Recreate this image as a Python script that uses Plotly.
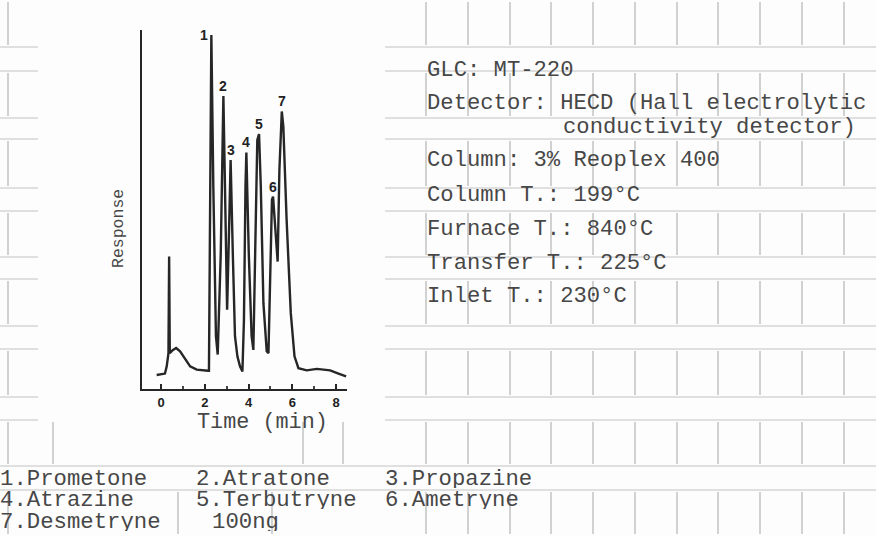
import plotly.graph_objects as go

# ---------------- data ----------------
time_min = [-0.20, 0.18, 0.26, 0.34, 0.37, 0.40, 0.53, 0.69, 0.87, 1.10, 1.33, 1.63, 1.94, 2.15,
            2.19, 2.30, 2.39, 2.51, 2.59,
            2.73, 2.85, 2.94, 3.02,
            3.12, 3.18, 3.28, 3.38, 3.49, 3.61, 3.72,
            3.79, 3.86, 3.90, 4.01, 4.14, 4.22,
            4.30, 4.40, 4.48, 4.56, 4.68, 4.83, 4.91,
            4.98, 5.07, 5.12, 5.23, 5.33,
            5.41, 5.52, 5.59, 5.74, 5.93, 6.10, 6.28, 6.66, 7.12, 7.73, 8.11, 8.46]
response = [3.9, 4.3, 6.3, 10.0, 36.9, 10.0, 10.8, 11.4, 10.5, 8.2, 6.3, 5.4, 5.1, 5.1,
            5.1, 98.6, 56.4, 14.7, 9.6,
            37.8, 81.6, 47.0, 22.1,
            47.0, 63.8, 37.8, 14.7, 9.1, 6.3, 4.9,
            19.3, 56.4, 65.9, 37.8, 14.7, 10.9,
            37.8, 69.4, 71.0, 56.4, 23.9, 10.5, 10.0,
            28.6, 52.7, 53.6, 45.3, 35.5,
            61.0, 77.3, 73.1, 47.1, 21.2, 9.1, 5.8, 5.2, 5.6, 5.2, 4.3, 3.5]

peak_labels = ["1", "2", "3", "4", "5", "6", "7"]
peak_times = [2.30, 2.85, 3.18, 3.90, 4.48, 5.12, 5.52]
peak_heights = [98.6, 81.6, 63.8, 65.9, 71.0, 53.6, 77.3]

x_tick_vals = [0, 2, 4, 6, 8]
x_tick_text = ["0", "2", "4", "6", "8"]

info_lines = ["GLC: MT-220",
              "Detector: HECD (Hall electrolytic",
              "conductivity detector)",
              "Column: 3% Reoplex 400",
              "Column T.: 199°C",
              "Furnace T.: 840°C",
              "Transfer T.: 225°C",
              "Inlet T.: 230°C"]

compounds_row1 = ["1.Prometone", "2.Atratone", "3.Propazine"]
compounds_row2 = ["4.Atrazine", "5.Terbutryne", "6.Ametryne"]
compounds_row3 = ["7.Desmetryne", "100ng"]

# ---------------- layout helpers (pixel -> paper) ----------------
W, H = 876, 536
ML, MR, MT, MB = 142, 529, 30, 147
PW, PH = W - ML - MR, H - MT - MB


def px(x):
    return (x - ML) / PW


def py(y):
    return (H - MB - y) / PH


TEXT_COLOR = "#474747"
MONO = "Liberation Mono, Courier New, monospace"

fig = go.Figure()
fig.add_trace(go.Scatter(x=time_min, y=response, mode="lines",
                         line=dict(color="#262626", width=2.4),
                         hoverinfo="skip", showlegend=False))

annotations = []
# peak numbers
for i, (lab, t, h) in enumerate(zip(peak_labels, peak_times, peak_heights)):
    if i == 0:
        annotations.append(dict(x=t, y=h, xref="x", yref="y", text=lab, showarrow=False,
                                xanchor="right", yanchor="middle", xshift=-1,
                                font=dict(family="Liberation Sans, Arial", size=14,
                                          color="#222", weight="bold")))
    else:
        annotations.append(dict(x=t, y=h, xref="x", yref="y", text=lab, showarrow=False,
                                xanchor="center", yanchor="bottom", yshift=0,
                                font=dict(family="Liberation Sans, Arial", size=14,
                                          color="#222", weight="bold")))

# axis titles
annotations.append(dict(x=px(262), y=py(422), xref="paper", yref="paper", text="Time (min)",
                        showarrow=False, xanchor="center", yanchor="middle",
                        font=dict(family=MONO, size=21.8, color=TEXT_COLOR)))
annotations.append(dict(x=px(118), y=py(229), xref="paper", yref="paper", text="Response",
                        showarrow=False, xanchor="center", yanchor="middle", textangle=-90,
                        font=dict(family=MONO, size=16.5, color=TEXT_COLOR)))

# instrument information block
info_pos = [(426, 70), (426, 103), (562, 127), (426, 160), (426, 195), (426, 229), (426, 263), (426, 296)]
for txt, (x0, y0) in zip(info_lines, info_pos):
    annotations.append(dict(x=px(x0 - 1), y=py(y0), xref="paper", yref="paper", text=txt,
                            showarrow=False, xanchor="left", yanchor="middle",
                            font=dict(family=MONO, size=22.2, color=TEXT_COLOR)))

# compound list (tightly typed rows, as on the original sheet)
rows = [(compounds_row1, 478, [0, 196, 385]),
        (compounds_row2, 499, [0, 196, 385]),
        (compounds_row3, 521, [0, 212])]
for names, y0, xs in rows:
    for name, x0 in zip(names, xs):
        annotations.append(dict(x=px(x0 - 1), y=py(y0), xref="paper", yref="paper", text=name,
                                showarrow=False, xanchor="left", yanchor="middle",
                                height=19, borderpad=0,
                                font=dict(family=MONO, size=22.3, color=TEXT_COLOR)))

# background form lines of the scanned sheet (decoration)
shapes = []
h_lines = [47, 71, 118, 139, 188, 211, 257, 279, 326, 349, 397, 420, 466, 490]
for y0 in h_lines:
    if y0 < 440:
        segs = [(0, 38), (385, W)]
    else:
        segs = [(0, W)]
    for a, b in segs:
        shapes.append(dict(type="line", xref="paper", yref="paper",
                           x0=px(a), x1=px(b), y0=py(y0), y1=py(y0),
                           line=dict(color="#c2c2c2", width=1), layer="below"))

v_right = [426, 468, 510, 551, 593, 635, 677, 718, 760, 802, 844]
gaps = [(0, 47), (71, 118), (139, 188), (211, 257), (279, 326), (349, 397), (420, 466), (490, W)]
for (ya, yb) in gaps:
    xs = [8] + v_right
    if ya == 420:
        xs = [8, 53, 303, 343] + v_right
    if ya == 490:
        xs = [8, 178, 272] + v_right
    for x0 in xs:
        shapes.append(dict(type="line", xref="paper", yref="paper",
                           x0=px(x0), x1=px(x0), y0=py(ya + 2), y1=py(min(yb, H) - 2),
                           line=dict(color="#b4b4b4", width=1.2), layer="below"))

fig.update_layout(
    width=W, height=H,
    margin=dict(l=ML, r=MR, t=MT, b=MB),
    paper_bgcolor="#fdfdfd", plot_bgcolor="rgba(0,0,0,0)",
    showlegend=False,
    annotations=annotations,
    shapes=shapes,
    xaxis=dict(range=[-0.87, 8.5], showline=True, linecolor="#262626", linewidth=2,
               showgrid=False, zeroline=False,
               tickmode="array", tickvals=x_tick_vals, ticktext=x_tick_text,
               ticks="inside", ticklen=5, tickwidth=1.5, tickcolor="#262626",
               minor=dict(dtick=1, tick0=0, ticks="inside", ticklen=3, tickcolor="#444",
                          showgrid=False),
               tickfont=dict(family="Liberation Sans, Arial", size=13, color="#222",
                             weight="bold")),
    yaxis=dict(range=[0, 100], showline=True, linecolor="#262626", linewidth=2,
               showgrid=False, zeroline=False, showticklabels=False, ticks=""),
)

fig.write_html("out.html",
               config={"displayModeBar": False},
               post_script="document.body.style.margin='0';document.body.style.overflow='hidden';")
